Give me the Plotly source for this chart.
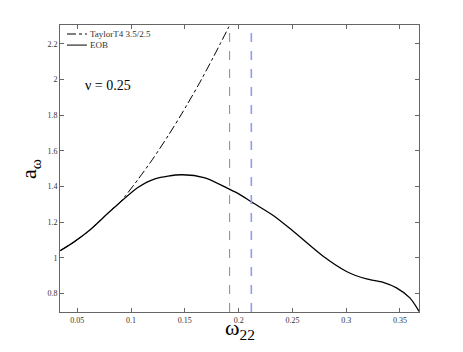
import plotly.graph_objects as go

# EOB curve
eob_x = [0.034, 0.047, 0.0602, 0.0835, 0.1067, 0.1222, 0.147, 0.1687, 0.1903, 0.2012, 0.2121,
         0.2322, 0.25, 0.2786, 0.3003, 0.3189, 0.3344, 0.3468, 0.3592, 0.3678]
eob_y = [1.04, 1.09, 1.149, 1.278, 1.396, 1.443, 1.466, 1.449, 1.388, 1.355, 1.313,
         1.2375, 1.153, 1.009, 0.924, 0.882, 0.863, 0.832, 0.776, 0.70]

# TaylorT4 3.5/2.5 curve
taylor_x = [0.034, 0.047, 0.0602, 0.0835, 0.089, 0.095, 0.1067, 0.12, 0.135, 0.147, 0.1625, 0.1764, 0.191]
taylor_y = [1.04, 1.09, 1.149, 1.279, 1.308, 1.350, 1.442, 1.553, 1.690, 1.807, 1.968, 2.124, 2.296]

series_names = ["TaylorT4 3.5/2.5", "EOB"]
series_dash = ["dashdot", "solid"]

vline_x = [0.1916, 0.2118]
vline_colors = ["#8a8a8a", "#8f9cf5"]
vline_widths = [1, 1.6]

y_range = [0.697, 2.305]
x_range = [0.0339, 0.3677]

font = "Liberation Serif"

fig = go.Figure()
fig.add_trace(go.Scatter(x=taylor_x, y=taylor_y, mode="lines", name=series_names[0],
                         line=dict(color="black", width=1, dash=series_dash[0], shape="spline", smoothing=0.8)))
fig.add_trace(go.Scatter(x=eob_x, y=eob_y, mode="lines", name=series_names[1],
                         line=dict(color="black", width=1.3, shape="spline", smoothing=0.8)))
for vx, vc, vw in zip(vline_x, vline_colors, vline_widths):
    fig.add_trace(go.Scatter(x=[vx, vx], y=y_range, mode="lines", showlegend=False,
                             line=dict(color=vc, width=vw, dash="dash")))

# manual legend (compact, like the reference)
leg_y = [0.9686, 0.930]
for name, dash, ly in zip(series_names, series_dash, leg_y):
    fig.add_shape(type="line", xref="paper", yref="paper", x0=0.0195, x1=0.075, y0=ly, y1=ly,
                  line=dict(color="black", width=1, dash=dash))
    fig.add_annotation(xref="paper", yref="paper", x=0.078, y=ly, text=name, showarrow=False,
                       xanchor="left", yanchor="middle",
                       font=dict(family=font, size=9, color="#333333"))

fig.add_annotation(x=0.0553, y=1.966, text="ν = 0.25", showarrow=False, xanchor="left",
                   font=dict(family=font, size=14, color="black"))

# axis titles
fig.add_annotation(xref="paper", yref="paper", x=0.5, y=-0.06, text="ω<sub>22</sub>",
                   showarrow=False, xanchor="center", yanchor="middle",
                   font=dict(family=font, size=22, color="black"))
fig.add_annotation(xref="paper", yref="paper", x=-0.085, y=0.5, text="a<sub>ω</sub>",
                   showarrow=False, xanchor="center", yanchor="middle", textangle=-90,
                   font=dict(family=font, size=22, color="black"))

axis_common = dict(showline=True, linecolor="#666666", linewidth=1, mirror="allticks",
                   ticks="inside", ticklen=4, tickcolor="#666666", showgrid=False, zeroline=False,
                   automargin=False,
                   tickfont=dict(family=font, size=8, color="#333333"))

# page body adds an 8px offset, so margins are shifted to compensate
fig.update_layout(
    width=463, height=352,
    margin=dict(l=52, r=52, t=17, b=48),
    plot_bgcolor="white", paper_bgcolor="white",
    showlegend=False,
    xaxis=dict(range=x_range, tickvals=[0.05, 0.1, 0.15, 0.2, 0.25, 0.3, 0.35],
               ticktext=["0.05", "0.1", "0.15", "0.2", "0.25", "0.3", "0.35"],
               **axis_common),
    yaxis=dict(range=y_range, tickvals=[0.8, 1, 1.2, 1.4, 1.6, 1.8, 2, 2.2],
               ticktext=["0.8", "1", "1.2", "1.4", "1.6", "1.8", "2", "2.2"],
               **axis_common),
)

fig.write_html("out.html")
